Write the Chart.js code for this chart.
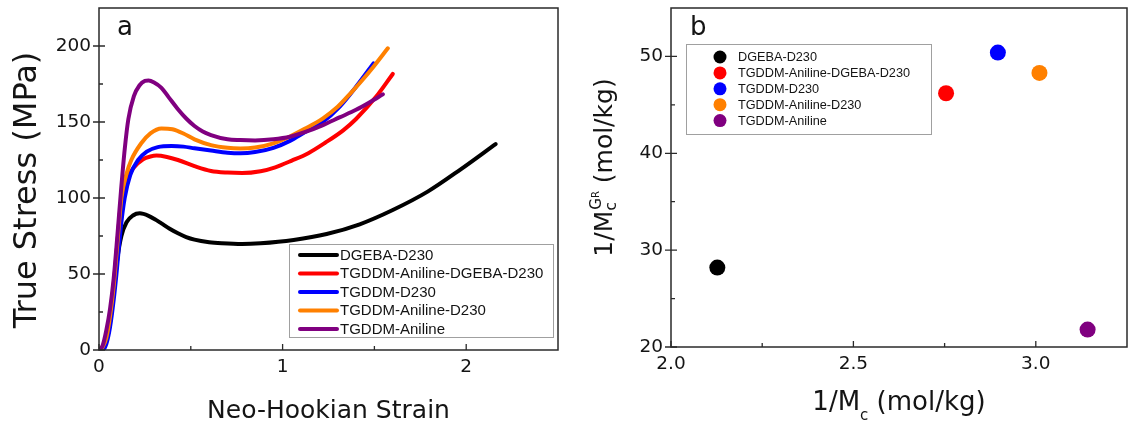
<!DOCTYPE html>
<html>
<head>
<meta charset="utf-8">
<title>Stress-strain and crosslink density</title>
<script src="https://cdn.jsdelivr.net/npm/chart.js@4/dist/chart.umd.min.js"></script>
<style>
  html, body { margin: 0; padding: 0; background: #ffffff; }
  #wrap { position: relative; width: 1135px; height: 428px; overflow: hidden; }
  .panel { position: absolute; top: 0; height: 428px; }
  #pa { left: 0; width: 570px; }
  #pb { left: 570px; width: 565px; }
</style>
</head>
<body>
<div id="wrap">
  <div class="panel" id="pa"><canvas id="ca" width="570" height="428"></canvas></div>
  <div class="panel" id="pb"><canvas id="cb" width="565" height="428"></canvas></div>
</div>
<script>
// ---- series ----
const seriesNames = ['DGEBA-D230', 'TGDDM-Aniline-DGEBA-D230', 'TGDDM-D230', 'TGDDM-Aniline-D230', 'TGDDM-Aniline'];
const seriesColors = ['#000000', '#ff0000', '#0000ff', '#ff8000', '#800080'];

// ---- panel a: true stress (MPa) vs neo-Hookian strain ----
const strainDGEBA = [0, 0.02, 0.04, 0.06, 0.08, 0.10, 0.122, 0.15, 0.185, 0.222, 0.27, 0.31, 0.34, 0.385, 0.43, 0.475, 0.52, 0.60, 0.67, 0.78, 0.88, 1.06, 1.24, 1.42, 1.60, 1.79, 1.97, 2.16];
const stressDGEBA = [0, 1, 6, 18, 38, 60, 75, 84, 88.5, 89.9, 88.3, 85.6, 83.3, 79.8, 76.8, 74.3, 72.6, 70.9, 70.2, 69.7, 70.2, 72.4, 76.3, 82.7, 92.1, 104.2, 118.9, 135.5];

const strainMix = [0, 0.02, 0.04, 0.06, 0.08, 0.10, 0.12, 0.15, 0.19, 0.24, 0.28, 0.313, 0.37, 0.43, 0.52, 0.61, 0.70, 0.78, 0.88, 0.96, 1.05, 1.14, 1.23, 1.33, 1.40, 1.51, 1.60];
const stressMix = [0, 2, 8, 22, 43, 70, 97, 112, 120, 125.5, 127.3, 127.9, 127, 125, 121, 117.8, 116.7, 116.4, 117.6, 120.2, 124.6, 129.5, 136.2, 144.5, 152, 166.7, 181.6];

const strainTD = [0, 0.02, 0.04, 0.06, 0.08, 0.095, 0.12, 0.14, 0.17, 0.213, 0.26, 0.32, 0.395, 0.46, 0.52, 0.61, 0.70, 0.77, 0.85, 0.95, 1.04, 1.12, 1.22, 1.31, 1.40, 1.495];
const stressTD = [0, 0, 4, 15, 33, 50, 82, 100, 115, 125, 130.5, 133.5, 134.2, 133.8, 132.7, 131.2, 129.8, 129.4, 130.2, 133, 137.6, 143.2, 150.2, 160, 173.2, 188.6];

const strainTAD = [0, 0.02, 0.04, 0.06, 0.08, 0.10, 0.122, 0.15, 0.176, 0.23, 0.28, 0.34, 0.40, 0.46, 0.52, 0.61, 0.70, 0.77, 0.85, 0.95, 1.04, 1.12, 1.22, 1.30, 1.37, 1.43, 1.495, 1.573];
const stressTAD = [0, 2, 8, 22, 42, 70, 100, 116, 125, 136, 142.5, 145.8, 145.2, 142.4, 138.6, 134.8, 133, 132.6, 133.2, 136, 140.5, 145.5, 152.4, 160, 168.9, 177, 186.4, 198.5];

const strainTA = [0, 0.02, 0.04, 0.06, 0.08, 0.10, 0.12, 0.14, 0.16, 0.19, 0.22, 0.25, 0.27, 0.30, 0.34, 0.38, 0.43, 0.475, 0.52, 0.565, 0.61, 0.70, 0.77, 0.85, 0.95, 1.04, 1.12, 1.22, 1.31, 1.40, 1.475, 1.546];
const stressTA = [0, 3, 13, 27, 47, 75, 105, 132, 152, 167, 174, 177, 177.3, 176, 172.5, 166.2, 158.4, 152.3, 147.4, 143.8, 141.4, 138.6, 138.1, 137.9, 138.6, 140.3, 143.3, 148, 153, 158, 163, 168.2];

const strainTicks = [0, 1, 2];
const stressTicks = [0, 50, 100, 150, 200];

// ---- panel b: 1/Mc^GR vs 1/Mc (mol/kg) ----
const invMc = [2.127, 2.754, 2.896, 3.010, 3.142];
const invMcGR = [28.2, 46.2, 50.4, 48.3, 21.8];
const invMcTicks = [2.0, 2.5, 3.0];
const invMcGRTicks = [20, 30, 40, 50];

const strainSets = [strainDGEBA, strainMix, strainTD, strainTAD, strainTA];
const stressSets = [stressDGEBA, stressMix, stressTD, stressTAD, stressTA];

// ---- styling ----
const FONT = '"DejaVu Sans", Verdana, sans-serif';
const LEGEND_FONT = '"Liberation Sans", Arial, sans-serif';
const AXIS_COLOR = '#2a2a2a';
const TEXT_COLOR = '#141414';

function minorValues(majors, min, max) {
  const out = [];
  if (majors.length < 2) return out;
  const step = majors[1] - majors[0];
  for (let v = majors[0] - step / 2; v < max; v += step) {
    if (v > min + 1e-9 && v < max - 1e-9) out.push(v);
  }
  return out;
}

// frame around the plot area plus inward/crossing tick marks
const boxTicks = {
  id: 'boxTicks',
  afterDatasetsDraw(chart, _args, o) {
    const { ctx, chartArea: a } = chart;
    const sx = chart.scales.x, sy = chart.scales.y;
    ctx.save();
    ctx.strokeStyle = AXIS_COLOR;
    ctx.lineWidth = o.frameWidth;
    ctx.strokeRect(a.left, a.top, a.right - a.left, a.bottom - a.top);
    ctx.lineWidth = o.tickWidth;
    ctx.beginPath();
    const xs = sx.ticks.map(t => t.value);
    const ys = sy.ticks.map(t => t.value);
    xs.forEach(v => {
      const p = sx.getPixelForValue(v);
      ctx.moveTo(p, a.bottom); ctx.lineTo(p, a.bottom - o.majorIn);
    });
    minorValues(xs, sx.min, sx.max).forEach(v => {
      const p = sx.getPixelForValue(v);
      ctx.moveTo(p, a.bottom); ctx.lineTo(p, a.bottom - o.minorIn);
    });
    ys.forEach(v => {
      const p = sy.getPixelForValue(v);
      ctx.moveTo(a.left - o.majorOut, p); ctx.lineTo(a.left + o.majorIn, p);
    });
    minorValues(ys, sy.min, sy.max).forEach(v => {
      const p = sy.getPixelForValue(v);
      ctx.moveTo(a.left, p); ctx.lineTo(a.left + o.minorIn, p);
    });
    ctx.stroke();
    ctx.restore();
  }
};

// text made of runs with their own size and baseline shift (sub/superscripts)
function drawRich(ctx, parts, cx, baseY, angle) {
  let total = 0;
  parts.forEach(p => {
    ctx.font = p.size + 'px ' + FONT;
    p.w = ctx.measureText(p.t).width;
    if (p.advance !== false) total += p.w + (p.dx || 0);
  });
  ctx.save();
  ctx.translate(cx, baseY);
  ctx.rotate(angle);
  ctx.textAlign = 'left';
  ctx.textBaseline = 'alphabetic';
  let x = -total / 2;
  parts.forEach(p => {
    ctx.font = p.size + 'px ' + FONT;
    ctx.fillText(p.t, x + (p.dx || 0), p.dy || 0);
    if (p.advance !== false) x += p.w + (p.dx || 0);
  });
  ctx.restore();
}

const panelText = {
  id: 'panelText',
  afterDraw(chart, _args, o) {
    const { ctx, chartArea: a } = chart;
    ctx.save();
    ctx.fillStyle = TEXT_COLOR;
    ctx.textAlign = 'left';
    ctx.textBaseline = 'alphabetic';
    ctx.font = o.letterSize + 'px ' + FONT;
    ctx.fillText(o.letter, a.left + o.letterDx, a.top + o.letterDy);
    drawRich(ctx, o.xTitle, (a.left + a.right) / 2, a.bottom + o.xTitleDy, 0);
    drawRich(ctx, o.yTitle, o.yTitleX, (a.top + a.bottom) / 2 + o.yTitleDy, -Math.PI / 2);
    ctx.restore();
  }
};

// boxed legend placed inside the plot area
const boxLegend = {
  id: 'boxLegend',
  afterDraw(chart, _args, o) {
    const { ctx, chartArea: a } = chart;
    const x0 = a.left + o.left, y0 = a.top + o.top;
    ctx.save();
    ctx.fillStyle = '#ffffff';
    ctx.fillRect(x0, y0, o.width, o.height);
    ctx.strokeStyle = o.borderColor;
    ctx.lineWidth = 1;
    ctx.strokeRect(Math.round(x0) + 0.5, Math.round(y0) + 0.5, o.width, o.height);
    ctx.font = o.fontSize + 'px ' + LEGEND_FONT;
    ctx.textAlign = 'left';
    ctx.textBaseline = 'middle';
    seriesNames.forEach((name, i) => {
      const y = y0 + o.firstRow + i * o.rowGap;
      ctx.strokeStyle = seriesColors[i];
      ctx.fillStyle = seriesColors[i];
      if (o.symbol === 'line') {
        ctx.lineWidth = 4;
        ctx.lineCap = 'round';
        ctx.beginPath();
        ctx.moveTo(x0 + o.symX0, y); ctx.lineTo(x0 + o.symX1, y);
        ctx.stroke();
      } else {
        ctx.beginPath();
        ctx.arc(x0 + o.symX0, y, o.dotR, 0, Math.PI * 2);
        ctx.fill();
      }
      ctx.fillStyle = TEXT_COLOR;
      ctx.fillText(name, x0 + o.textX, y + 0.5);
    });
    ctx.restore();
  }
};

function points(xs, ys) { return xs.map((v, i) => ({ x: v, y: ys[i] })); }

function axis(min, max, values, fmt, fitProp, fitSize, pad) {
  return {
    type: 'linear', min: min, max: max,
    afterBuildTicks: s => { s.ticks = values.map(v => ({ value: v })); },
    afterFit: s => {
      s[fitProp] = fitSize;
      s.paddingTop = 0; s.paddingBottom = 0; s.paddingLeft = 0; s.paddingRight = 0;
    },
    grid: { display: false, drawTicks: false },
    border: { display: false },
    ticks: {
      padding: pad, color: TEXT_COLOR, autoSkip: false, maxRotation: 0,
      font: { family: FONT, size: 18.5 },
      callback: v => fmt(v)
    }
  };
}

// ---- panel a ----
new Chart(document.getElementById('ca'), {
  type: 'scatter',
  data: {
    datasets: seriesNames.map((name, i) => ({
      label: name,
      data: points(strainSets[i], stressSets[i]),
      showLine: true,
      borderColor: seriesColors[i],
      backgroundColor: seriesColors[i],
      borderWidth: 4,
      borderCapStyle: 'round',
      borderJoinStyle: 'round',
      pointRadius: 0,
      cubicInterpolationMode: 'monotone',
      order: seriesNames.length - i
    }))
  },
  options: {
    responsive: false,
    animation: false,
    layout: { padding: { top: 8, right: 12, left: 0, bottom: 0 } },
    scales: {
      x: axis(0, 2.5, strainTicks, v => String(v), 'height', 78, 6),
      y: axis(0, 225, stressTicks, v => String(v), 'width', 99, 8)
    },
    plugins: {
      legend: { display: false },
      tooltip: { enabled: false },
      boxTicks: { frameWidth: 1.5, tickWidth: 1.3, majorIn: 6, majorOut: 6, minorIn: 4 },
      panelText: {
        letter: 'a', letterSize: 26, letterDx: 18, letterDy: 27,
        xTitle: [{ t: 'Neo-Hookian Strain', size: 25 }], xTitleDy: 68,
        yTitle: [{ t: 'True Stress (MPa)', size: 32 }], yTitleX: 36, yTitleDy: 11
      },
      boxLegend: {
        left: 190, top: 236, width: 264, height: 93, borderColor: '#a0a0a0',
        symbol: 'line', symX0: 11, symX1: 48, textX: 51, firstRow: 11, rowGap: 18.5, fontSize: 15
      }
    }
  },
  plugins: [boxTicks, panelText, boxLegend]
});

// ---- panel b ----
new Chart(document.getElementById('cb'), {
  type: 'scatter',
  data: {
    datasets: seriesNames.map((name, i) => ({
      label: name,
      data: [{ x: invMc[i], y: invMcGR[i] }],
      backgroundColor: seriesColors[i],
      borderColor: seriesColors[i],
      borderWidth: 0,
      pointRadius: 8
    }))
  },
  options: {
    responsive: false,
    animation: false,
    layout: { padding: { top: 6, right: 4, left: 0, bottom: 0 } },
    scales: {
      x: axis(2, 3.25, invMcTicks, v => v.toFixed(1), 'height', 81, 6),
      y: axis(20, 55, invMcGRTicks, v => String(v), 'width', 101, 8)
    },
    plugins: {
      legend: { display: false },
      tooltip: { enabled: false },
      boxTicks: { frameWidth: 1.5, tickWidth: 1.3, majorIn: 6, majorOut: 6, minorIn: 4 },
      panelText: {
        letter: 'b', letterSize: 26, letterDx: 19, letterDy: 27,
        xTitle: [
          { t: '1/M', size: 26 },
          { t: 'c', size: 15, dy: 10 },
          { t: ' (mol/kg)', size: 26 }
        ],
        xTitleDy: 63,
        yTitle: [
          { t: '1/M', size: 25 },
          { t: 'c', size: 16, dy: 4, advance: false },
          { t: 'G', size: 15, dy: -11, dx: 1 },
          { t: 'R', size: 10, dy: -13 },
          { t: ' (mol/kg)', size: 25 }
        ],
        yTitleX: 42, yTitleDy: -10
      },
      boxLegend: {
        left: 15, top: 36, width: 245, height: 90, borderColor: '#a0a0a0',
        symbol: 'dot', symX0: 34, dotR: 6.5, textX: 52, firstRow: 13, rowGap: 15.9, fontSize: 12.7
      }
    }
  },
  plugins: [boxTicks, panelText, boxLegend]
});
</script>
</body>
</html>
